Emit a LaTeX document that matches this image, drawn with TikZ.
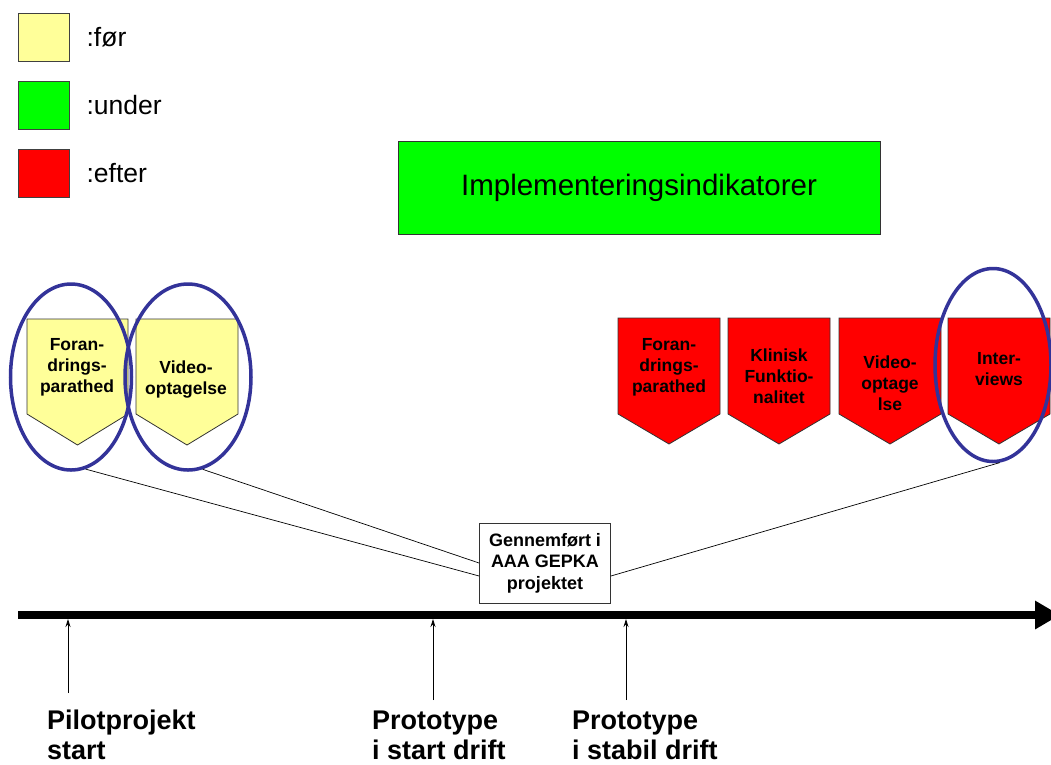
\documentclass[tikz,border=0pt]{standalone}
\usepackage{fontspec}
\setmainfont{Liberation Sans}
\usetikzlibrary{positioning,shapes.geometric,arrows.meta}

\definecolor{foer}{RGB}{255,255,153}
\definecolor{under}{RGB}{0,255,0}
\definecolor{efter}{RGB}{255,0,0}
\definecolor{ringblue}{RGB}{51,51,153}

\tikzset{
  legendbox/.style={draw=black!75, line width=0.8pt, minimum width=51pt, minimum height=48pt, inner sep=0pt},
  legendtext/.style={right=17pt of #1, font=\fontsize{26.5}{30}\selectfont, inner sep=0pt},
  indicator/.style={draw=black!80, line width=0.8pt},
  indtext/.style={align=center, font=\fontsize{17.5}{21}\selectfont\bfseries, inner sep=0pt},
  ring/.style={ellipse, draw=ringblue, line width=3.5pt, inner sep=0pt},
  milestone/.style={align=left, anchor=north west, inner sep=0pt, font=\fontsize{27}{30}\selectfont\bfseries},
  tick/.style={-{Stealth[length=8pt,width=5pt]}, line width=0.8pt},
}

\begin{document}
\begin{tikzpicture}[x=1pt,y=1pt,yscale=-1]
    \useasboundingbox (0,0) rectangle (1051,764);

    % Legend
    \node[legendbox, fill=foer] (lfoer) at (43.5,37.5) {};
    \node[legendbox, fill=under] (lunder) at (43.5,105) {};
    \node[legendbox, fill=efter] (lefter) at (43.5,173) {};
    \node[legendtext=lfoer] (tfoer) {:før};
    \node[legendtext=lunder] (tunder) {:under};
    \node[legendtext=lefter] (tefter) {:efter};

    % Title box
    \node[draw=black!80, line width=0.8pt, fill=under, minimum width=482pt, minimum height=93pt,
          font=\fontsize{29.5}{34}\selectfont] (title) at (639,187.5) {Implementeringsindikatorer};

    % Shape: before (yellow)
    \draw[indicator, fill=foer] (27,319) -- (128,319) -- (128,414) -- (77.5,445) -- (27,414) -- cycle;
    \draw[indicator, fill=foer] (136,319) -- (238,319) -- (238,414) -- (187,445) -- (136,414) -- cycle;
    % Shape: after (red)
    \draw[indicator, fill=efter] (618,318) -- (720,318) -- (720,414) -- (669,444) -- (618,414) -- cycle;
    \draw[indicator, fill=efter] (728,318) -- (830,318) -- (830,414) -- (779,444) -- (728,414) -- cycle;
    \draw[indicator, fill=efter] (839,318) -- (941,318) -- (941,414) -- (890,444) -- (839,414) -- cycle;
    \draw[indicator, fill=efter] (948,318) -- (1050,318) -- (1050,414) -- (999,444) -- (948,414) -- cycle;

    % Text in shapes
    \node[indtext] (forand1) at (77,367) {Foran-\\drings-\\parathed};
    \node[indtext] (video1) at (186,380) {Video-\\optagelse};
    \node[indtext] (forand2) at (669,367) {Foran-\\drings-\\parathed};
    \node[indtext] (klinisk) at (779,376) {Klinisk\\Funktio-\\nalitet};
    \node[indtext] (video2) at (890,383) {Video-\\optage\\lse};
    \node[indtext] (interv) at (999,369) {Inter-\\views};

    % Center box
    \node[draw=black!80, line width=0.8pt, fill=white, minimum width=131pt, minimum height=80pt,
          align=center, inner sep=0pt, font=\fontsize{18}{21.5}\selectfont\bfseries] (gepka) at (545,563)
          {Gennemført i\\AAA GEPKA\\projektet};

    % Rings
    \node[ring, minimum width=121pt, minimum height=186pt] (ring1) at (71,377) {};
    \node[ring, minimum width=126pt, minimum height=186pt] (ring2) at (188,377) {};
    \node[ring, minimum width=116pt, minimum height=193pt] (ring3) at (993,365) {};

    % Straight Lines
    \draw[line width=0.7pt] (ring1.-81) -- ([yshift=13pt]gepka.west);
    \draw[line width=0.7pt] (ring2.-81) -- (gepka.west);
    \draw[line width=0.7pt] (ring3.-86) -- ([yshift=13pt]gepka.east);

    % Time line
    \coordinate (tl0) at (18,615);
    \coordinate (tl1) at (1060,615);
    \coordinate (bar) at (0,619);
    \draw[line width=8pt, -{Triangle[length=25pt,width=27pt]}] (tl0) -- (tl1);

    % Milestones
    \coordinate (m1) at (68,693);
    \coordinate (m2) at (433,700);
    \coordinate (m3) at (626,700);
    \draw[tick] (m1) -- (m1 |- bar);
    \draw[tick] (m2) -- (m2 |- bar);
    \draw[tick] (m3) -- (m3 |- bar);

    \node[milestone] (pilot) at (47,710) {Pilotprojekt\\start};
    \node[milestone] (pstart) at (372,711) {Prototype\\i start drift};
    \node[milestone] (pstabil) at (572,711) {Prototype\\i stabil drift};
\end{tikzpicture}
\end{document}
